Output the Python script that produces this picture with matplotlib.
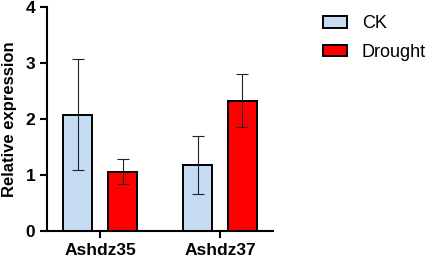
import matplotlib.pyplot as plt
import numpy as np

plt.rcParams['font.family'] = ['Liberation Sans', 'DejaVu Sans']

genes = ['Ashdz35', 'Ashdz37']
ck = [2.08, 1.18]
ck_err = [0.99, 0.52]
drought = [1.06, 2.33]
drought_err = [0.22, 0.48]

fig = plt.figure(figsize=(4.29, 2.61), dpi=100)
ax = fig.add_axes([0.1096, 0.115, 0.5268, 0.858])

x = np.arange(len(genes))
w = 0.24
off = 0.1875
ekw = dict(elinewidth=0.8, capthick=0.8, ecolor='#222222')
ax.bar(x - off, ck, w, yerr=ck_err, capsize=4, color='#C5DCF3',
       edgecolor='black', linewidth=1.4, label='CK', error_kw=ekw)
ax.bar(x + off, drought, w, yerr=drought_err, capsize=4, color='#FF0000',
       edgecolor='black', linewidth=1.4, label='Drought', error_kw=ekw)

ax.set_xlim(-0.442, 1.442)
ax.set_ylim(0, 4)
ax.set_yticks([0, 1, 2, 3, 4])
ax.set_xticks(x)
ax.set_xticklabels(genes, fontweight='bold', fontsize=12.5)
for t in ax.get_yticklabels():
    t.set_fontweight('bold')
    t.set_fontsize(12.5)
ax.set_ylabel('Relative expression', fontweight='bold', fontsize=12, labelpad=6)

for s in ['top', 'right']:
    ax.spines[s].set_visible(False)
for s in ['left', 'bottom']:
    ax.spines[s].set_linewidth(1.5)
ax.tick_params(width=1.5, length=5)

fig.legend(loc='upper left', bbox_to_anchor=(0.728, 0.983), frameon=False,
           fontsize=13, handlelength=1.3, handleheight=0.6, labelspacing=0.65,
           handletextpad=0.85, borderpad=0.4, borderaxespad=0.2)

fig.savefig('out.png', dpi=100)
